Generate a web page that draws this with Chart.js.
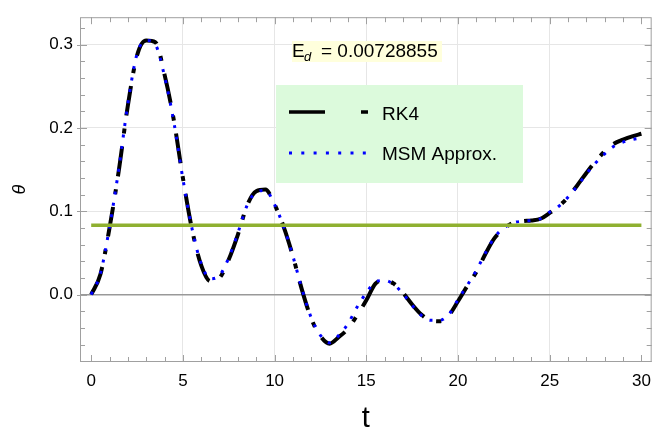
<!doctype html>
<html lang="en">
<head>
    <meta charset="utf-8">
    <title>RK4 vs MSM</title>
    <script src="https://cdn.jsdelivr.net/npm/chart.js@4.4.1/dist/chart.umd.min.js"></script>
    <style>
        body { margin: 0; background: #fff; }
        #chart { display: block; }
    </style>
</head>
<body>
<canvas id="chart" width="660" height="433"></canvas>

<script>
    // time samples
    const tValues = [0, 0.5, 1, 1.5, 2, 2.5, 3, 3.5, 4, 4.5, 5, 5.5, 6, 6.5, 7, 7.5, 8, 8.5, 9, 9.5,
        10, 10.5, 11, 11.5, 12, 12.5, 13, 13.5, 14, 14.5, 15, 15.5, 16, 16.5, 17, 17.5, 18, 18.5, 19, 19.5,
        20, 20.5, 21, 21.5, 22, 22.5, 23, 23.5, 24, 24.5, 25, 25.5, 26, 26.5, 27, 27.5, 28, 28.5, 29, 29.5, 30];

    const rk4 = [0, 0.024, 0.080, 0.148, 0.227, 0.287, 0.305, 0.303, 0.264, 0.210,
        0.140, 0.078, 0.035, 0.016, 0.020, 0.042, 0.072, 0.107, 0.124, 0.126,
        0.108, 0.081, 0.046, 0.005, -0.029, -0.050, -0.059, -0.051, -0.041, -0.025,
        -0.007, 0.013, 0.017, 0.013, 0.002, -0.012, -0.024, -0.031, -0.032, -0.025,
        -0.008, 0.010, 0.027, 0.049, 0.068, 0.079, 0.086, 0.088, 0.089, 0.091,
        0.098, 0.106, 0.117, 0.131, 0.146, 0.160, 0.172, 0.181, 0.186, 0.190, 0.193];

    const msm = [0, 0.025, 0.081, 0.150, 0.229, 0.289, 0.305, 0.300, 0.262, 0.208,
        0.139, 0.079, 0.037, 0.019, 0.023, 0.044, 0.074, 0.107, 0.123, 0.125,
        0.108, 0.081, 0.046, 0.006, -0.028, -0.049, -0.058, -0.049, -0.035, -0.015,
        0.002, 0.015, 0.017, 0.012, 0.001, -0.013, -0.025, -0.031, -0.031, -0.024,
        -0.006, 0.011, 0.029, 0.050, 0.069, 0.080, 0.086, 0.088, 0.089, 0.091,
        0.099, 0.106, 0.117, 0.130, 0.145, 0.158, 0.169, 0.178, 0.183, 0.186, 0.188];

    // horizontal reference line
    const meanT = [0, 30];
    const meanTheta = [0.0831, 0.0831];

    const xTicks = [0, 5, 10, 15, 20, 25, 30];
    const yTicks = [0.0, 0.1, 0.2, 0.3];
    const errorText = '0.00728855';

    const toPoints = (xs, ys) => xs.map((x, i) => ({x: x, y: ys[i]}));

    const FONT = '"Liberation Sans", Arial, sans-serif';
    const FRAME = '#a0a0a0';

    // frame with inside ticks like the original plot
    const framePlugin = {
        id: 'frame',
        beforeDatasetsDraw(chart) {
            const {ctx, chartArea: a, scales: {x, y}} = chart;
            ctx.save();
            ctx.strokeStyle = FRAME;
            ctx.lineWidth = 1;
            ctx.strokeRect(a.left + 0.5, a.top + 0.5, a.right - a.left - 1, a.bottom - a.top - 1);
            ctx.beginPath();
            for (let v = 0; v <= 30; v++) {
                const px = Math.round(x.getPixelForValue(v)) + 0.5;
                const len = v % 5 === 0 ? 7 : 5;
                ctx.moveTo(px, a.bottom); ctx.lineTo(px, a.bottom - len);
                ctx.moveTo(px, a.top); ctx.lineTo(px, a.top + len);
            }
            for (let k = -4; k <= 16; k++) {
                const py = Math.round(y.getPixelForValue(k * 0.02)) + 0.5;
                const major = k % 5 === 0;
                const len = major ? 7 : 5;
                ctx.moveTo(a.left - (major ? 3 : 0), py); ctx.lineTo(a.left + len, py);
                ctx.moveTo(a.right, py); ctx.lineTo(a.right - len, py);
            }
            ctx.stroke();
            ctx.restore();
        },
        afterDraw(chart) {
            const ctx = chart.ctx;
            ctx.save();
            // error label
            ctx.fillStyle = '#ffffdc';
            ctx.fillRect(292, 41, 150, 21);
            ctx.fillStyle = '#000';
            ctx.textBaseline = 'alphabetic';
            ctx.font = '19px ' + FONT;
            ctx.fillText('E', 292, 57);
            ctx.font = 'italic 13px ' + FONT;
            ctx.fillText('d', 304, 61);
            ctx.font = '19px ' + FONT;
            ctx.fillText('= ' + errorText, 321, 57);

            // legend
            ctx.fillStyle = '#dcfadc';
            ctx.fillRect(276, 85, 247, 98);
            ctx.strokeStyle = '#000';
            ctx.lineWidth = 3.5;
            ctx.beginPath();
            ctx.moveTo(289, 112); ctx.lineTo(325, 112);
            ctx.moveTo(361, 112); ctx.lineTo(368, 112);
            ctx.stroke();
            ctx.strokeStyle = '#0000ff';
            ctx.lineWidth = 3;
            ctx.setLineDash([3, 9.3]);
            ctx.beginPath();
            ctx.moveTo(289, 153); ctx.lineTo(368, 153);
            ctx.stroke();
            ctx.setLineDash([]);
            ctx.fillStyle = '#000';
            ctx.font = '19px ' + FONT;
            ctx.textBaseline = 'alphabetic';
            ctx.fillText('RK4', 382, 120);
            ctx.fillText('MSM Approx.', 382, 160);
            ctx.restore();
        }
    };

    const data = {
        datasets: [
            {
                label: 'Mean',
                data: toPoints(meanT, meanTheta),
                borderColor: '#8fb030',
                borderWidth: 3.5,
                order: 0
            },
            {
                label: 'MSM Approx.',
                data: toPoints(tValues, msm),
                borderColor: '#0000ff',
                borderWidth: 3,
                borderDash: [3, 8.5],
                cubicInterpolationMode: 'monotone',
                order: 1
            },
            {
                label: 'RK4',
                data: toPoints(tValues, rk4),
                borderColor: '#000000',
                borderWidth: 4,
                borderDash: [30, 13, 5, 13],
                cubicInterpolationMode: 'monotone',
                order: 2
            }
        ]
    };

    const config = {
        type: 'line',
        data: data,
        options: {
            responsive: false,
            animation: false,
            layout: {padding: {left: 0, right: 8, top: 8, bottom: 0}},
            elements: {point: {radius: 0}},
            plugins: {legend: {display: false}, tooltip: {enabled: false}},
            scales: {
                x: {
                    type: 'linear',
                    min: -0.61,
                    max: 30.56,
                    afterBuildTicks: (s) => { s.ticks = xTicks.map(v => ({value: v})); },
                    afterFit: (s) => { s.height = 71; },
                    border: {display: false},
                    grid: {
                        drawTicks: false,
                        color: (c) => (c.tick && c.tick.value > 0 && c.tick.value < 30) ? '#e6e6e6' : 'rgba(0,0,0,0)'
                    },
                    ticks: {
                        autoSkip: false, maxRotation: 0, padding: 9, color: '#000',
                        font: {family: FONT, size: 17},
                        callback: (v) => String(v)
                    },
                    title: {
                        display: true, text: 't', color: '#000', padding: 0,
                        font: {family: FONT, size: 29, lineHeight: 1}
                    }
                },
                y: {
                    type: 'linear',
                    min: -0.081,
                    max: 0.333,
                    afterBuildTicks: (s) => { s.ticks = yTicks.map(v => ({value: v})); },
                    afterFit: (s) => { s.width = 80; },
                    border: {display: false},
                    grid: {
                        drawTicks: false,
                        color: (c) => (c.tick && Math.abs(c.tick.value) < 1e-9) ? '#999999' : '#e6e6e6',
                        lineWidth: (c) => (c.tick && Math.abs(c.tick.value) < 1e-9) ? 1.5 : 1
                    },
                    ticks: {
                        padding: 7, color: '#000',
                        font: {family: FONT, size: 17},
                        callback: (v) => Math.abs(v) < 1e-9 ? '0.0' : v.toFixed(1)
                    },
                    title: {
                        display: true, text: 'θ', color: '#000', padding: {top: 9, bottom: 0},
                        font: {family: FONT, size: 18, style: 'italic', lineHeight: 1.2}
                    }
                }
            }
        },
        plugins: [framePlugin]
    };

    const chart = new Chart(document.getElementById('chart'), config);
</script>
</body>
</html>
